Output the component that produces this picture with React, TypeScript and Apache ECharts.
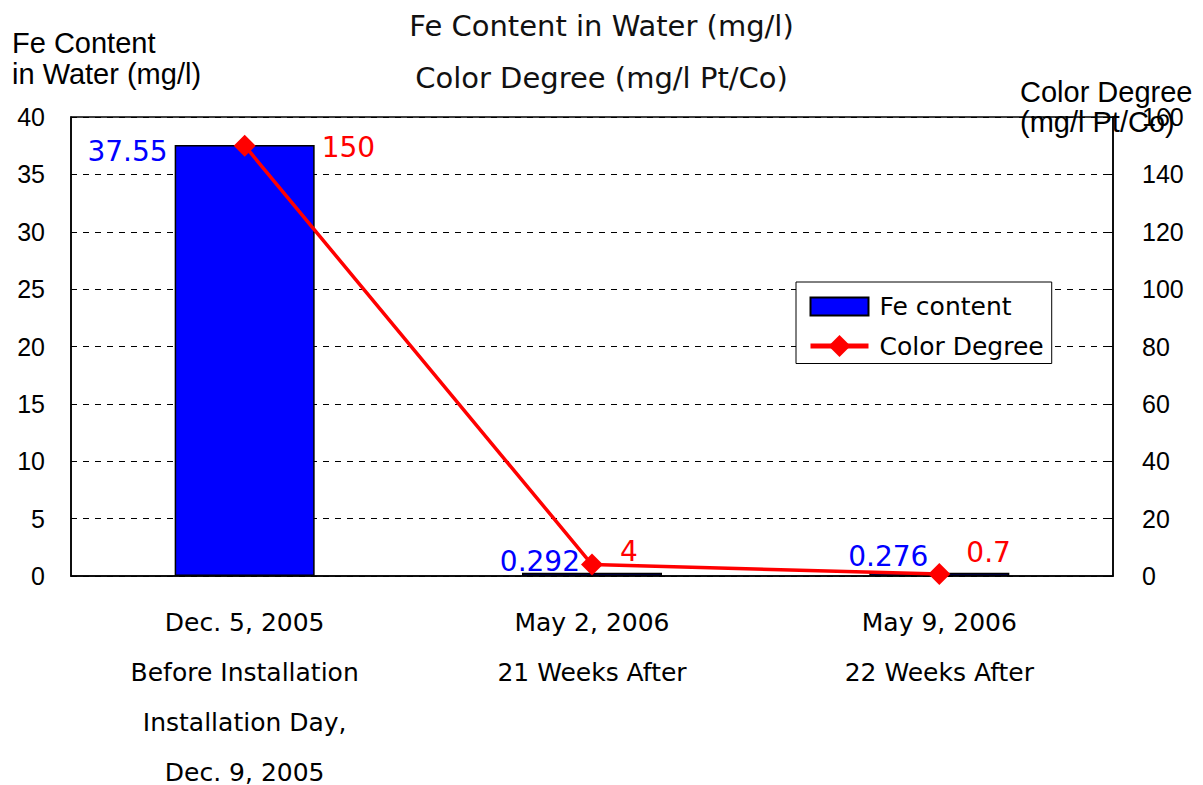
import React, { useEffect, useRef } from "react";
import * as echarts from "echarts";

const categories = [
  "Dec. 5, 2005\nBefore Installation\nInstallation Day,\nDec. 9, 2005",
  "May 2, 2006\n21 Weeks After",
  "May 9, 2006\n22 Weeks After",
];
const feContent = [37.55, 0.292, 0.276];
const colorDegree = [150, 4, 0.7];
const leftTicks = { min: 0, max: 40, interval: 5 };
const rightTicks = { min: 0, max: 160, interval: 20 };

const barLabelPos = [
  [-7, 6],
  [58, -11],
  [59, -16],
];
const lineLabelOffset = [
  [61, 2],
  [12, -13],
  [11, -21],
];

export default function App() {
  const ref = useRef<HTMLDivElement>(null);
  useEffect(() => {
    if (!ref.current) return;
    const chart = echarts.init(ref.current, null, { renderer: "svg" });
    const labelFont = "DejaVu Sans";
    chart.setOption({
      animation: false,
      backgroundColor: "#fff",
      title: {
        text: "Fe Content in Water (mg/l)\nColor Degree (mg/l Pt/Co)",
        left: "center",
        top: 0,
        padding: 0,
        textStyle: {
          fontFamily: labelFont,
          fontSize: 29,
          fontWeight: "normal",
          color: "#111",
          lineHeight: 52,
        },
      },
      graphic: [
        {
          type: "text",
          left: 12,
          top: 27,
          style: {
            text: "Fe Content\nin Water (mg/l)",
            font: "29px 'Liberation Sans'",
            fill: "#000",
            lineHeight: 31,
          },
        },
        {
          type: "text",
          left: 1020,
          top: 77,
          style: {
            text: "Color Degree\n(mg/l Pt/Co)",
            font: "29px 'Liberation Sans'",
            fill: "#000",
            lineHeight: 30,
          },
        },
      ],
      legend: {
        orient: "vertical",
        left: 796,
        top: 282,
        padding: [12, 8, 5, 12],
        itemGap: 14.5,
        itemWidth: 58,
        itemHeight: 27.5,
        backgroundColor: "#fff",
        borderColor: "#000",
        borderWidth: 1,
        borderRadius: 0,
        symbolKeepAspect: true,
        textStyle: {
          fontFamily: labelFont,
          fontSize: 25,
          color: "#000",
          padding: [0, 0, 0, 6],
        },
        data: [
          { name: "Fe content", icon: "path://M0 0H58V18H0Z" },
          { name: "Color Degree", lineStyle: { width: 5 } },
        ],
      },
      grid: {
        left: 71,
        right: 90,
        top: 117,
        bottom: 209,
        outerBoundsMode: "none",
        containLabel: false,
        show: true,
        borderColor: "#000",
        borderWidth: 1.5,
        backgroundColor: "transparent",
      },
      xAxis: {
        type: "category",
        data: categories,
        axisTick: { show: false },
        axisLine: { lineStyle: { color: "#000", width: 1.5 } },
        axisLabel: {
          interval: 0,
          margin: 21,
          fontFamily: labelFont,
          fontSize: 25,
          lineHeight: 50,
          color: "#000",
        },
      },
      yAxis: [
        {
          type: "value",
          ...leftTicks,
          position: "left",
          axisLine: { show: true, lineStyle: { color: "#000", width: 1.5 } },
          axisTick: { show: true, inside: true, length: 5, lineStyle: { color: "#000" } },
          axisLabel: {
            margin: 26,
            fontFamily: "Liberation Sans",
            fontSize: 25,
            color: "#000",
          },
          splitLine: {
            show: true,
            lineStyle: { color: "#000", type: [6, 6], width: 1 },
          },
        },
        {
          type: "value",
          ...rightTicks,
          position: "right",
          axisLine: { show: true, lineStyle: { color: "#000", width: 1.5 } },
          axisTick: { show: true, inside: true, length: 5, lineStyle: { color: "#000" } },
          axisLabel: {
            margin: 29,
            fontFamily: "Liberation Sans",
            fontSize: 25,
            color: "#000",
          },
          splitLine: { show: false },
        },
      ],
      series: [
        {
          name: "Fe content",
          type: "bar",
          yAxisIndex: 0,
          barWidth: 140,
          itemStyle: { color: "#0000FF", borderColor: "#000", borderWidth: 1.5 },
          data: feContent.map((v, i) => ({
            value: v,
            label: {
              show: true,
              position: barLabelPos[i],
              align: "right",
              verticalAlign: "middle",
              fontFamily: labelFont,
              fontSize: 28,
              color: "#0000FF",
            },
          })),
          z: 2,
        },
        {
          name: "Color Degree",
          type: "line",
          yAxisIndex: 1,
          symbol: "diamond",
          symbolSize: 22,
          lineStyle: { color: "#FF0000", width: 3.5 },
          itemStyle: { color: "#FF0000" },
          data: colorDegree.map((v, i) => ({
            value: v,
            label: {
              show: true,
              position: "right",
              offset: lineLabelOffset[i],
              fontFamily: labelFont,
              fontSize: 28,
              color: "#FF0000",
            },
          })),
          z: 3,
        },
      ],
    });
    return () => chart.dispose();
  }, []);
  return (
    <div
      ref={ref}
      style={{ position: "absolute", left: 0, top: 0, width: 1203, height: 785 }}
    />
  );
}
